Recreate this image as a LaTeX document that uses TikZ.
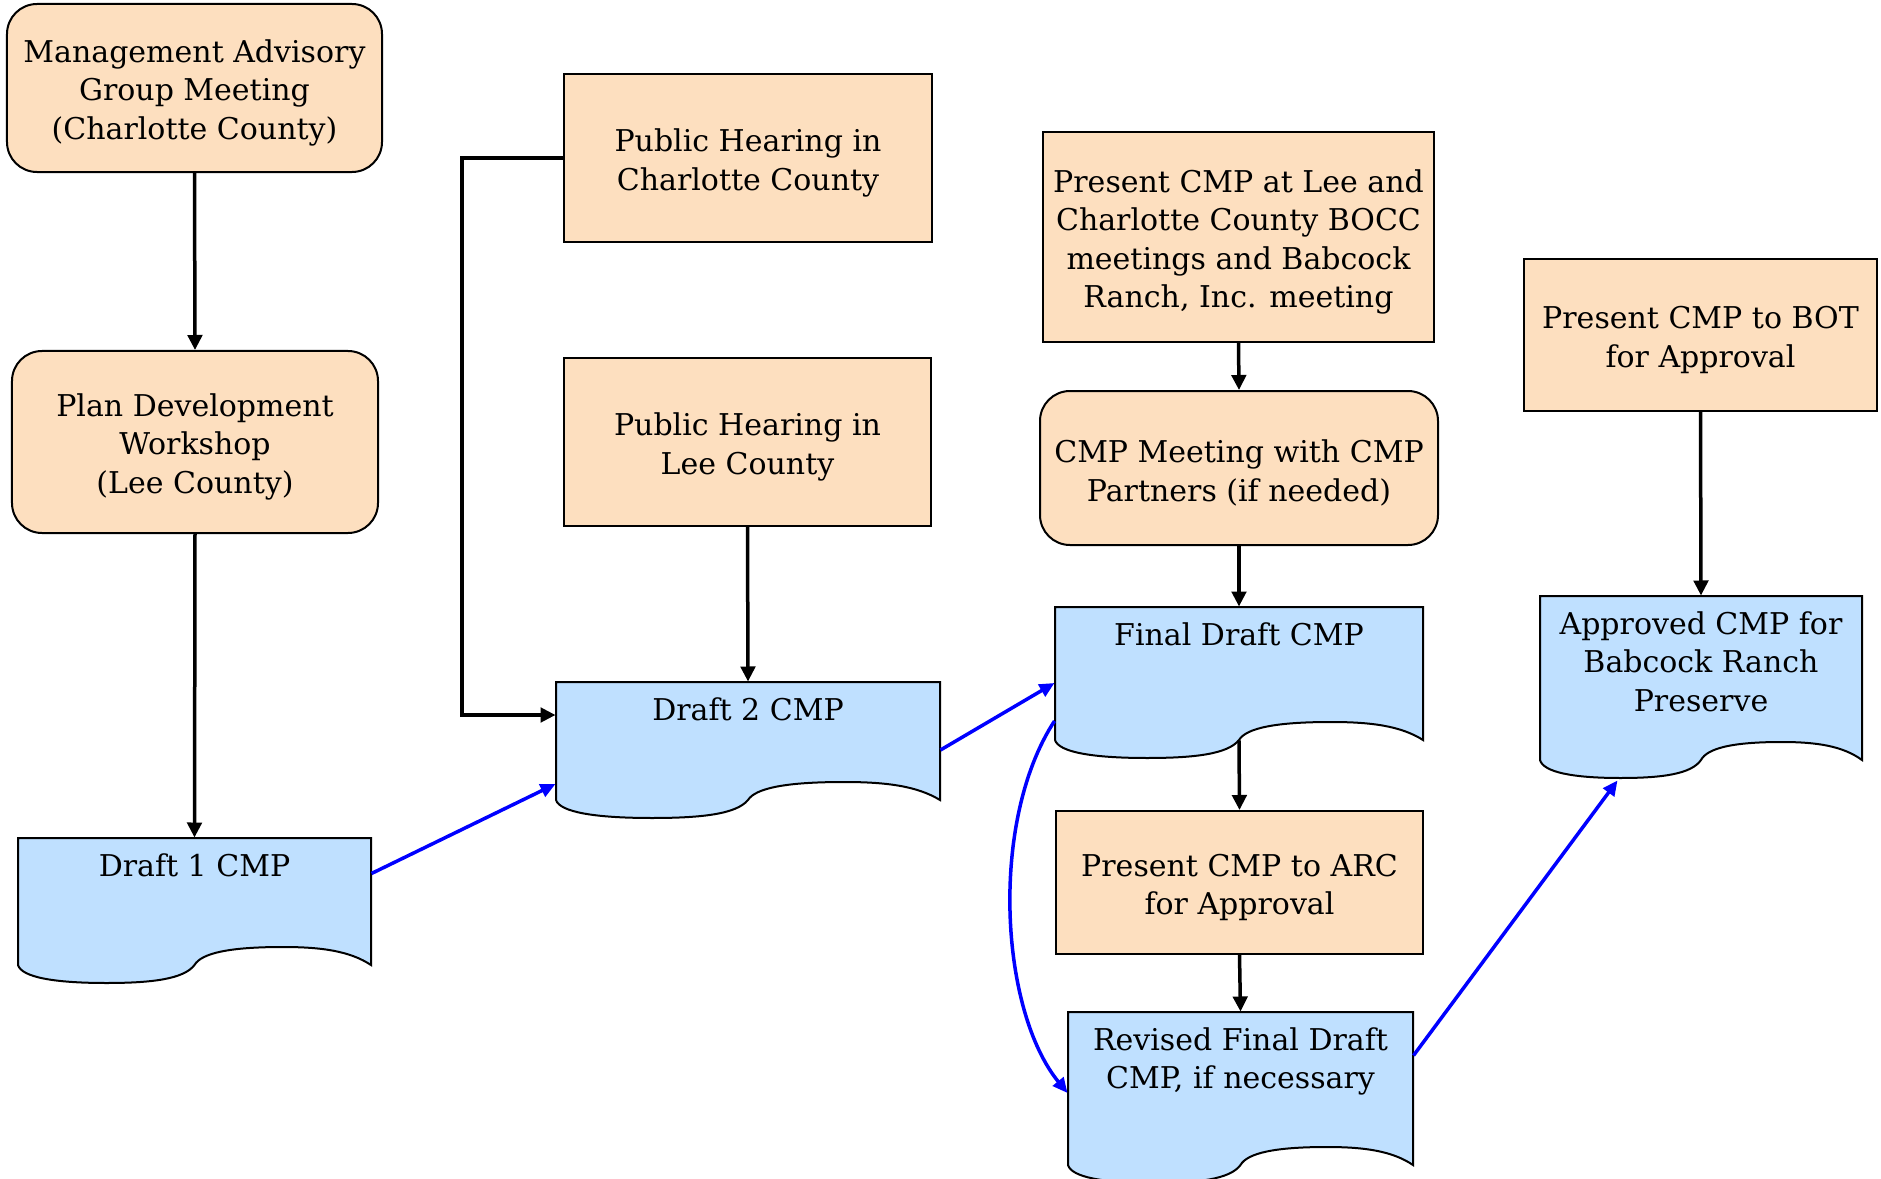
\documentclass[tikz,border=0pt]{standalone}
\usepackage{fontspec}
\setmainfont{DejaVu Serif}
\usetikzlibrary{arrows.meta,calc}
\definecolor{peach}{RGB}{253,223,191}
\definecolor{docblue}{RGB}{191,224,255}
\definecolor{arrblue}{RGB}{0,0,255}
\tikzset{
  txt/.style={font=\fontsize{12}{15.4}\selectfont, align=center, inner sep=0pt},
  rbox/.style={draw=black, line width=0.8pt, fill=peach, rounded corners=12pt, inner sep=0pt},
  sbox/.style={draw=black, line width=0.8pt, fill=peach, inner sep=0pt},
  docshape/.style={draw=black, line width=0.8pt, fill=docblue},
  doctext/.style={txt, anchor=north},
  arr/.style={draw=black, line width=1.4pt, -{Triangle[length=6pt,width=5.8pt]}},
  barr/.style={draw=arrblue, line width=1.4pt, -{Triangle[length=6pt,width=5.4pt]}}
}
\newcommand\btext[2]{\node[txt] (#1t) at ([yshift=-1.9pt]#1.center) {#2};}
\newcommand\docnode[6]{%
  \pgfmathsetmacro\dW{#4-#2}%
  \path[docshape] (#4,#5)
    .. controls ({#4-0.06*\dW},{#5-14}) and ({#2+0.86*\dW},{#5-18}) .. ({#2+0.75*\dW},{#5-18})
    .. controls ({#2+0.6*\dW},{#5-18}) and ({#2+0.52*\dW},{#5-12}) .. ({#2+0.5*\dW},{#5})
    .. controls ({#2+0.47*\dW},{#5+14}) and ({#2+0.38*\dW},{#5+18}) .. ({#2+0.25*\dW},{#5+18})
    .. controls ({#2+0.1*\dW},{#5+18}) and ({#2+0.01*\dW},{#5+12}) .. (#2,#5)
    -- (#2,#3) -- (#4,#3) -- cycle;
  \node[inner sep=0pt, minimum width={0.4pt*(#4-#2)}, minimum height={0.4pt*(#5-#3)}] (#1) at ({(#2+#4)/2},{(#3+#5)/2}) {};
  \node[doctext] (#1t) at ({(#2+#4)/2},{#3+15}) {#6};
}
\begin{document}
\begin{tikzpicture}[x=0.4pt,y=-0.4pt]
\useasboundingbox (0,0) rectangle (1881,1179);
% process boxes
\node[rbox, minimum width=150pt, minimum height=67.2pt] (mag) at (194.5,88) {};
\btext{mag}{Management Advisory\\Group Meeting\\(Charlotte County)}
\node[rbox, minimum width=146.4pt, minimum height=72.8pt] (pdw) at (195,442) {};
\btext{pdw}{Plan Development\\Workshop\\(Lee County)}
\node[sbox, minimum width=147.2pt, minimum height=67.2pt] (phc) at (748,158) {};
\btext{phc}{Public Hearing in\\Charlotte County}
\node[sbox, minimum width=146.8pt, minimum height=67.2pt] (phl) at (747.5,442) {};
\btext{phl}{Public Hearing in\\Lee County}
\node[sbox, minimum width=156.4pt, minimum height=84pt] (pcl) at (1238.5,237) {};
\btext{pcl}{Present CMP at Lee and\\Charlotte County BOCC\\meetings and Babcock\\Ranch, Inc. meeting}
\node[rbox, minimum width=159.2pt, minimum height=61.6pt] (cmpm) at (1239,468) {};
\btext{cmpm}{CMP Meeting with CMP\\Partners (if needed)}
\node[sbox, minimum width=146.8pt, minimum height=57.2pt] (arc) at (1239.5,882.5) {};
\btext{arc}{Present CMP to ARC\\for Approval}
\node[sbox, minimum width=141.2pt, minimum height=60.8pt] (bot) at (1700.5,335) {};
\btext{bot}{Present CMP to BOT\\for Approval}
% documents
\docnode{d1}{18}{838}{371}{965}{Draft 1 CMP}
\docnode{d2}{556}{682}{940}{800}{Draft 2 CMP}
\docnode{fd}{1055}{607}{1423}{740}{Final Draft CMP}
\docnode{rev}{1068}{1012}{1413}{1165}{Revised Final Draft\\CMP, if necessary}
\docnode{appr}{1540}{596}{1862}{760}{Approved CMP for\\Babcock Ranch\\Preserve}
% black connectors
\draw[arr] (mag.south) -- (pdw.north);
\draw[arr] (pdw.south) -- (d1.north);
\draw[arr] (phc.west) -- ++(-101,0) |- ($(d2.west)+(0,-26)$);
\draw[arr] (phl.south) -- (d2.north);
\draw[arr] (pcl.south) -- (cmpm.north);
\draw[arr] (cmpm.south) -- (fd.north);
\draw[arr] (fd.south) -- (arc.north);
\draw[arr] (arc.south) -- (rev.north);
\draw[arr] (bot.south) -- (appr.north);
% blue connectors
\draw[barr] ($(d1.east)+(0,-28)$) -- ($(d2.west)+(0,43)$);
\draw[barr] ($(d2.east)+(0,9)$) -- ($(fd.west)+(0,9.5)$);
\draw[barr] ($(fd.west)+(0,47.5)$) .. controls ($(fd.west)+(-65,147)$) and ($(rev.west)+(-68,-79)$) .. ($(rev.west)+(0,4.5)$);
\coordinate (apprtrough) at ($(appr.south west)+(78,20)$);
\draw[barr] ($(rev.east)+(0,-33)$) -- (apprtrough);
\end{tikzpicture}
\end{document}
